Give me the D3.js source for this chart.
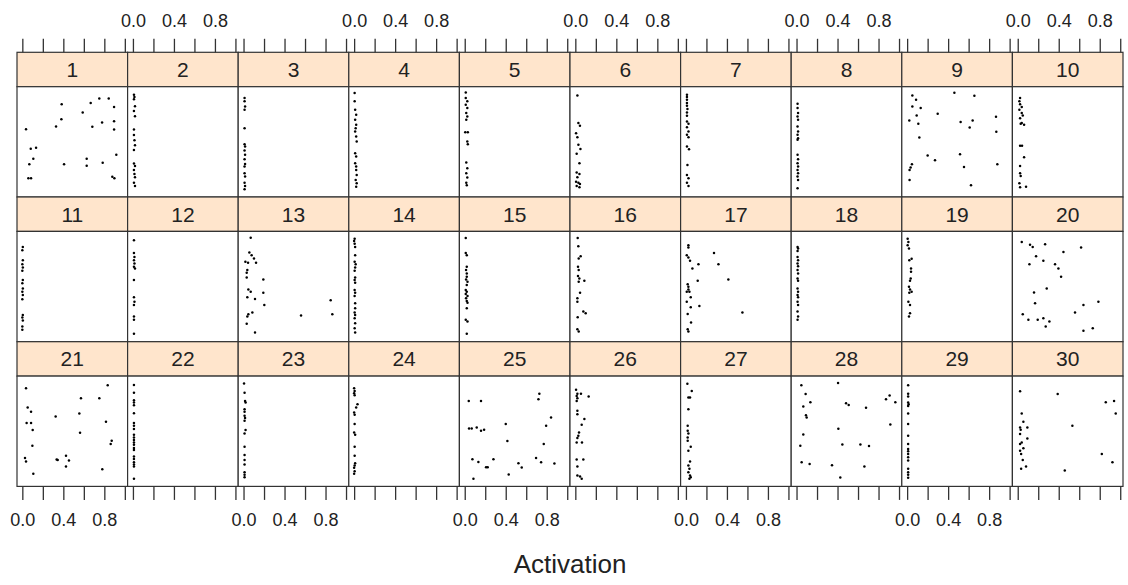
<!DOCTYPE html>
<html>
<head>
<meta charset="utf-8">
<script src="https://cdn.jsdelivr.net/npm/d3@7"></script>
<style>
  body { margin: 0; background: #fff; }
  svg text { font-family: "Liberation Sans", Arial, sans-serif; fill: #222; }
</style>
</head>
<body>
<svg id="chart"></svg>
<script>
// panel labels (strip text), one per subject
var panelLabels = d3.range(1, 31).map(String);

var xTicks = [0, 0.2, 0.4, 0.6, 0.8, 1.0];
var xTickLabels = ["0.0", "", "0.4", "", "0.8", ""];
var xTitle = "Activation";

// each panel: [activation, relative position] pairs
var points = [
  // 1
  [[0.384,0.84],[0.667,0.853],[0.751,0.892],[0.843,0.892],[0.895,0.816],[0.589,0.766],[0.381,0.705],[0.329,0.639],
   [0.036,0.615],[0.683,0.636],[0.778,0.675],[0.895,0.687],[0.895,0.612],[0.082,0.437],[0.134,0.446],[0.107,0.346],
   [0.068,0.296],[0.407,0.296],[0.628,0.346],[0.628,0.283],[0.784,0.31],[0.917,0.382],[0.059,0.169],[0.085,0.169],
   [0.878,0.184],[0.898,0.169]],
  // 2
  [[0.01,0.928],[0.015,0.907],[0.01,0.886],[0.02,0.823],[0.01,0.78],[0.02,0.732],[0.01,0.612],[0.01,0.561],
   [0.015,0.515],[0.02,0.47],[0.01,0.425],[0.01,0.304],[0.02,0.28],[0.01,0.244],[0.015,0.208],[0.02,0.178],
   [0.01,0.13],[0.02,0.099]],
  // 3
  [[0.01,0.897],[0.01,0.867],[0.015,0.821],[0.01,0.791],[0.01,0.624],[0.01,0.479],[0.015,0.458],[0.01,0.421],
   [0.015,0.382],[0.01,0.342],[0.015,0.3],[0.01,0.276],[0.01,0.215],[0.015,0.185],[0.01,0.13],[0.015,0.1],[0.01,0.07]],
  // 4
  [[0.005,0.942],[0.005,0.867],[0.01,0.791],[0.02,0.745],[0.01,0.7],[0.02,0.655],[0.015,0.624],[0.01,0.594],
   [0.02,0.548],[0.025,0.503],[0.01,0.397],[0.02,0.367],[0.01,0.306],[0.02,0.276],[0.02,0.245],[0.025,0.2],
   [0.015,0.155],[0.025,0.124],[0.02,0.094]],
  // 5
  [[0.01,0.948],[0.01,0.897],[0.025,0.867],[0.01,0.836],[0.025,0.806],[0.015,0.761],[0.025,0.73],[0.015,0.7],
   [0.005,0.588],[0.03,0.588],[0.025,0.503],[0.03,0.479],[0.015,0.312],[0.025,0.261],[0.015,0.215],[0.025,0.176],
   [0.015,0.13],[0.02,0.106]],
  // 6
  [[0.02,0.921],[0.03,0.67],[0.045,0.645],[0.007,0.579],[0.02,0.542],[0.03,0.473],[0.05,0.436],[0.013,0.391],
   [0.04,0.306],[0.013,0.221],[0.04,0.209],[0.02,0.179],[0.007,0.139],[0.03,0.13],[0.045,0.118],[0.013,0.1],[0.04,0.088]],
  // 7
  [[0.01,0.927],[0.01,0.906],[0.01,0.882],[0.01,0.852],[0.01,0.827],[0.015,0.797],[0.01,0.767],[0.01,0.736],
   [0.01,0.685],[0.025,0.664],[0.01,0.633],[0.025,0.594],[0.01,0.564],[0.025,0.542],[0.01,0.458],[0.03,0.433],
   [0.015,0.291],[0.01,0.2],[0.025,0.17],[0.01,0.13],[0.025,0.1]],
  // 8
  [[0.01,0.845],[0.01,0.806],[0.015,0.761],[0.01,0.73],[0.015,0.7],[0.01,0.639],[0.015,0.594],[0.01,0.564],
   [0.015,0.533],[0.01,0.518],[0.01,0.382],[0.015,0.342],[0.01,0.306],[0.015,0.276],[0.01,0.245],[0.015,0.215],
   [0.01,0.185],[0.015,0.155],[0.01,0.079]],
  // 9
  [[0.051,0.921],[0.087,0.882],[0.051,0.821],[0.132,0.806],[0.093,0.739],[0.021,0.694],[0.109,0.664],[0.298,0.755],
   [0.461,0.945],[0.656,0.918],[0.522,0.679],[0.639,0.694],[0.61,0.63],[0.867,0.727],[0.87,0.591],[0.119,0.539],
   [0.2,0.376],[0.272,0.333],[0.516,0.388],[0.555,0.273],[0.88,0.297],[0.047,0.297],[0.034,0.267],[0.024,0.245],
   [0.024,0.155],[0.623,0.106]],
  // 10
  [[0.023,0.897],[0.016,0.867],[0.023,0.842],[0.039,0.815],[0.016,0.791],[0.039,0.761],[0.049,0.739],[0.023,0.715],
   [0.039,0.67],[0.062,0.655],[0.029,0.664],[0.023,0.464],[0.042,0.464],[0.062,0.361],[0.023,0.282],[0.023,0.215],
   [0.029,0.191],[0.016,0.124],[0.023,0.088],[0.081,0.094]],
  // 11
  [[0.005,0.859],[0.0,0.829],[0.005,0.739],[0.0,0.703],[0.005,0.673],[0.0,0.643],[0.005,0.559],[0.0,0.529],
   [0.005,0.483],[0.0,0.453],[0.005,0.423],[0.0,0.384],[0.005,0.243],[0.0,0.219],[0.005,0.192],[0.0,0.138],[0.0,0.108]],
  // 12
  [[0.01,0.919],[0.01,0.805],[0.015,0.769],[0.01,0.739],[0.015,0.709],[0.01,0.679],[0.02,0.664],[0.01,0.559],
   [0.01,0.402],[0.015,0.363],[0.01,0.333],[0.01,0.228],[0.01,0.198],[0.01,0.072]],
  // 13
  [[0.07,0.943],[0.057,0.808],[0.079,0.784],[0.102,0.754],[0.122,0.715],[0.018,0.724],[0.044,0.715],[0.037,0.649],
   [0.031,0.625],[0.031,0.583],[0.193,0.565],[0.047,0.474],[0.07,0.453],[0.193,0.444],[0.037,0.402],[0.112,0.387],
   [0.203,0.333],[0.85,0.375],[0.047,0.249],[0.086,0.264],[0.037,0.228],[0.031,0.162],[0.561,0.237],[0.866,0.249],
   [0.112,0.084]],
  // 14
  [[0.005,0.934],[0.0,0.913],[0.005,0.889],[0.01,0.859],[0.01,0.784],[0.005,0.724],[0.015,0.703],[0.01,0.673],
   [0.005,0.643],[0.01,0.583],[0.005,0.559],[0.01,0.535],[0.005,0.468],[0.01,0.444],[0.005,0.414],[0.01,0.348],
   [0.01,0.303],[0.005,0.264],[0.01,0.243],[0.005,0.213],[0.01,0.168],[0.005,0.123],[0.01,0.084]],
  // 15
  [[0.01,0.94],[0.01,0.805],[0.02,0.784],[0.02,0.679],[0.013,0.649],[0.02,0.619],[0.02,0.589],[0.013,0.565],
   [0.027,0.544],[0.02,0.514],[0.01,0.468],[0.02,0.453],[0.01,0.432],[0.027,0.414],[0.013,0.393],[0.02,0.369],
   [0.027,0.354],[0.02,0.303],[0.01,0.198],[0.027,0.183],[0.02,0.072]],
  // 16
  [[0.023,0.94],[0.029,0.865],[0.052,0.775],[0.033,0.754],[0.026,0.679],[0.033,0.649],[0.026,0.595],[0.039,0.574],
   [0.088,0.553],[0.033,0.544],[0.046,0.444],[0.02,0.393],[0.02,0.363],[0.078,0.273],[0.101,0.258],[0.023,0.222],
   [0.02,0.114],[0.033,0.093]],
  // 17
  [[0.024,0.874],[0.024,0.853],[0.274,0.805],[0.008,0.784],[0.024,0.763],[0.04,0.733],[0.122,0.703],[0.317,0.703],
   [0.063,0.664],[0.115,0.553],[0.414,0.565],[0.017,0.52],[0.024,0.498],[0.024,0.474],[0.034,0.453],[0.008,0.453],
   [0.047,0.402],[0.008,0.363],[0.131,0.324],[0.047,0.312],[0.017,0.252],[0.551,0.264],[0.05,0.174],[0.017,0.114],
   [0.024,0.093]],
  // 18
  [[0.01,0.859],[0.015,0.844],[0.01,0.823],[0.01,0.769],[0.015,0.739],[0.01,0.709],[0.015,0.685],[0.01,0.649],
   [0.015,0.619],[0.01,0.574],[0.015,0.553],[0.01,0.483],[0.015,0.453],[0.01,0.423],[0.015,0.402],[0.01,0.363],
   [0.015,0.333],[0.01,0.273],[0.015,0.228],[0.01,0.198]],
  // 19
  [[0.005,0.934],[0.012,0.904],[0.005,0.874],[0.018,0.844],[0.044,0.751],[0.021,0.739],[0.038,0.664],[0.038,0.634],
   [0.035,0.574],[0.028,0.553],[0.018,0.498],[0.028,0.474],[0.044,0.453],[0.021,0.444],[0.012,0.363],[0.028,0.333],
   [0.028,0.258],[0.018,0.228]],
  // 20
  [[0.039,0.904],[0.12,0.88],[0.146,0.859],[0.267,0.883],[0.446,0.814],[0.618,0.853],[0.179,0.775],[0.25,0.733],
   [0.114,0.703],[0.364,0.703],[0.397,0.664],[0.423,0.589],[0.283,0.483],[0.159,0.447],[0.169,0.348],[0.641,0.333],
   [0.787,0.363],[0.049,0.249],[0.104,0.198],[0.195,0.198],[0.25,0.213],[0.309,0.183],[0.273,0.138],[0.559,0.264],
   [0.641,0.099],[0.732,0.123]],
  // 21
  [[0.036,0.889],[0.833,0.916],[0.572,0.799],[0.751,0.799],[0.052,0.715],[0.085,0.676],[0.325,0.634],[0.556,0.661],
   [0.042,0.574],[0.085,0.574],[0.101,0.511],[0.816,0.586],[0.563,0.486],[0.872,0.414],[0.862,0.384],[0.098,0.369],
   [0.026,0.258],[0.036,0.225],[0.335,0.243],[0.345,0.24],[0.426,0.279],[0.455,0.234],[0.426,0.18],[0.78,0.156],
   [0.107,0.114]],
  // 22
  [[0.01,0.919],[0.01,0.85],[0.01,0.781],[0.01,0.76],[0.01,0.736],[0.01,0.664],[0.01,0.574],[0.01,0.55],
   [0.01,0.52],[0.01,0.468],[0.01,0.444],[0.01,0.42],[0.01,0.399],[0.01,0.378],[0.01,0.348],[0.01,0.33],
   [0.01,0.27],[0.01,0.249],[0.01,0.219],[0.01,0.198],[0.01,0.18],[0.01,0.069]],
  // 23
  [[0.005,0.934],[0.01,0.85],[0.015,0.775],[0.02,0.76],[0.01,0.7],[0.01,0.676],[0.01,0.64],[0.015,0.619],
   [0.01,0.595],[0.02,0.511],[0.01,0.48],[0.01,0.36],[0.01,0.285],[0.01,0.24],[0.01,0.198],[0.01,0.129],
   [0.01,0.105],[0.01,0.084]],
  // 24
  [[0.0,0.889],[0.005,0.865],[0.0,0.844],[0.005,0.826],[0.033,0.745],[0.02,0.715],[0.0,0.67],[0.005,0.649],
   [0.005,0.565],[0.0,0.489],[0.01,0.468],[0.005,0.36],[0.005,0.279],[0.01,0.21],[0.005,0.189],[0.0,0.168],
   [0.005,0.138],[0.0,0.114]],
  // 25
  [[0.039,0.775],[0.159,0.775],[0.728,0.841],[0.719,0.79],[0.042,0.526],[0.068,0.526],[0.117,0.535],[0.159,0.505],
   [0.189,0.514],[0.4,0.565],[0.842,0.625],[0.794,0.55],[0.416,0.411],[0.771,0.384],[0.075,0.246],[0.133,0.222],
   [0.28,0.246],[0.208,0.174],[0.224,0.174],[0.524,0.21],[0.556,0.171],[0.696,0.258],[0.745,0.219],[0.875,0.207],
   [0.429,0.108],[0.085,0.069]],
  // 26
  [[0.007,0.877],[0.02,0.841],[0.055,0.841],[0.13,0.814],[0.013,0.82],[0.02,0.799],[0.013,0.775],[0.02,0.685],
   [0.02,0.655],[0.088,0.61],[0.062,0.559],[0.036,0.489],[0.029,0.459],[0.02,0.438],[0.013,0.399],[0.065,0.399],
   [0.013,0.243],[0.078,0.243],[0.02,0.18],[0.02,0.099],[0.046,0.09],[0.062,0.069]],
  // 27
  [[0.014,0.931],[0.057,0.865],[0.024,0.805],[0.04,0.805],[0.024,0.7],[0.017,0.55],[0.017,0.505],[0.024,0.48],
   [0.017,0.444],[0.017,0.414],[0.047,0.36],[0.024,0.324],[0.04,0.225],[0.024,0.189],[0.034,0.159],[0.024,0.129],
   [0.04,0.099],[0.047,0.084],[0.034,0.069]],
  // 28
  [[0.047,0.916],[0.405,0.937],[0.089,0.838],[0.135,0.763],[0.066,0.724],[0.092,0.646],[0.099,0.625],[0.483,0.754],
   [0.509,0.739],[0.678,0.712],[0.873,0.79],[0.908,0.823],[0.964,0.763],[0.915,0.562],[0.408,0.523],[0.066,0.471],
   [0.037,0.369],[0.447,0.381],[0.623,0.381],[0.707,0.366],[0.05,0.219],[0.128,0.204],[0.346,0.192],[0.662,0.18],
   [0.427,0.081]],
  // 29
  [[0.01,0.916],[0.01,0.841],[0.01,0.814],[0.01,0.76],[0.015,0.745],[0.01,0.73],[0.01,0.661],[0.01,0.565],
   [0.01,0.459],[0.01,0.384],[0.01,0.339],[0.01,0.318],[0.01,0.294],[0.01,0.264],[0.01,0.234],[0.01,0.159],
   [0.01,0.129],[0.01,0.105],[0.01,0.078]],
  // 30
  [[0.023,0.862],[0.39,0.838],[0.859,0.763],[0.94,0.775],[0.956,0.661],[0.039,0.661],[0.055,0.586],[0.023,0.535],
   [0.029,0.514],[0.094,0.535],[0.023,0.474],[0.094,0.435],[0.039,0.399],[0.023,0.384],[0.055,0.345],[0.023,0.324],
   [0.033,0.294],[0.049,0.24],[0.081,0.18],[0.033,0.159],[0.533,0.55],[0.82,0.294],[0.924,0.219],[0.459,0.144]]
];

var width = 1128, height = 585;
var nCols = 10, nRows = 3;
var gridLeft = 17, gridTop = 52.3;
var pw = 110.6, stripH = 34.4, ph = 110.3;
var rowH = stripH + ph;
var tickLen = 13.5;
var border = "#333";

var svg = d3.select("#chart")
    .attr("width", width)
    .attr("height", height);

var x = d3.scaleLinear().domain([-0.052, 1.027]).range([0, pw]);
var y = d3.scaleLinear().domain([0, 1]).range([ph, 0]);

panelLabels.forEach(function(lab, i) {
  var c = i % nCols, r = Math.floor(i / nCols);
  var g = svg.append("g")
      .attr("transform", "translate(" + (gridLeft + c * pw) + "," + (gridTop + r * rowH) + ")");

  // strip
  g.append("rect")
      .attr("width", pw).attr("height", stripH)
      .attr("fill", "#ffe5cc")
      .attr("stroke", border).attr("stroke-width", 1.2);
  g.append("text")
      .attr("x", pw / 2).attr("y", stripH / 2 + 7.6)
      .attr("text-anchor", "middle")
      .attr("font-size", 21)
      .attr("fill", "#333")
      .text(lab);

  // panel
  var p = g.append("g").attr("transform", "translate(0," + stripH + ")");
  p.append("rect")
      .attr("width", pw).attr("height", ph)
      .attr("fill", "#fff")
      .attr("stroke", border).attr("stroke-width", 1.2);
  p.selectAll("circle")
    .data(points[i])
    .enter().append("circle")
      .attr("cx", d => x(d[0]))
      .attr("cy", d => y(d[1]))
      .attr("r", 1.25)
      .attr("fill", "#000");
});

// top and bottom axes, labels alternate between columns like lattice
d3.range(nCols).forEach(function(c) {
  var showTop = c % 2 === 1;
  var topAxis = d3.axisTop(x)
      .tickValues(xTicks)
      .tickSize(tickLen)
      .tickPadding(12)
      .tickFormat((d, k) => showTop ? xTickLabels[k] : "");
  var botAxis = d3.axisBottom(x)
      .tickValues(xTicks)
      .tickSize(tickLen)
      .tickPadding(13)
      .tickFormat((d, k) => showTop ? "" : xTickLabels[k]);

  var gt = svg.append("g")
      .attr("transform", "translate(" + (gridLeft + c * pw) + "," + gridTop + ")")
      .call(topAxis);
  var gb = svg.append("g")
      .attr("transform", "translate(" + (gridLeft + c * pw) + "," + (gridTop + nRows * rowH) + ")")
      .call(botAxis);
  [gt, gb].forEach(function(a) {
    a.select(".domain").remove();
    a.selectAll(".tick line").attr("stroke", border).attr("stroke-width", 1.3);
    a.selectAll(".tick text")
        .attr("font-size", 18)
        .attr("font-family", "Liberation Sans, Arial, sans-serif")
        .attr("fill", "#333");
  });
});

svg.append("text")
    .attr("x", gridLeft + nCols * pw / 2)
    .attr("y", 573)
    .attr("text-anchor", "middle")
    .attr("font-size", 26)
    .attr("fill", "#222")
    .text(xTitle);
</script>
</body>
</html>
